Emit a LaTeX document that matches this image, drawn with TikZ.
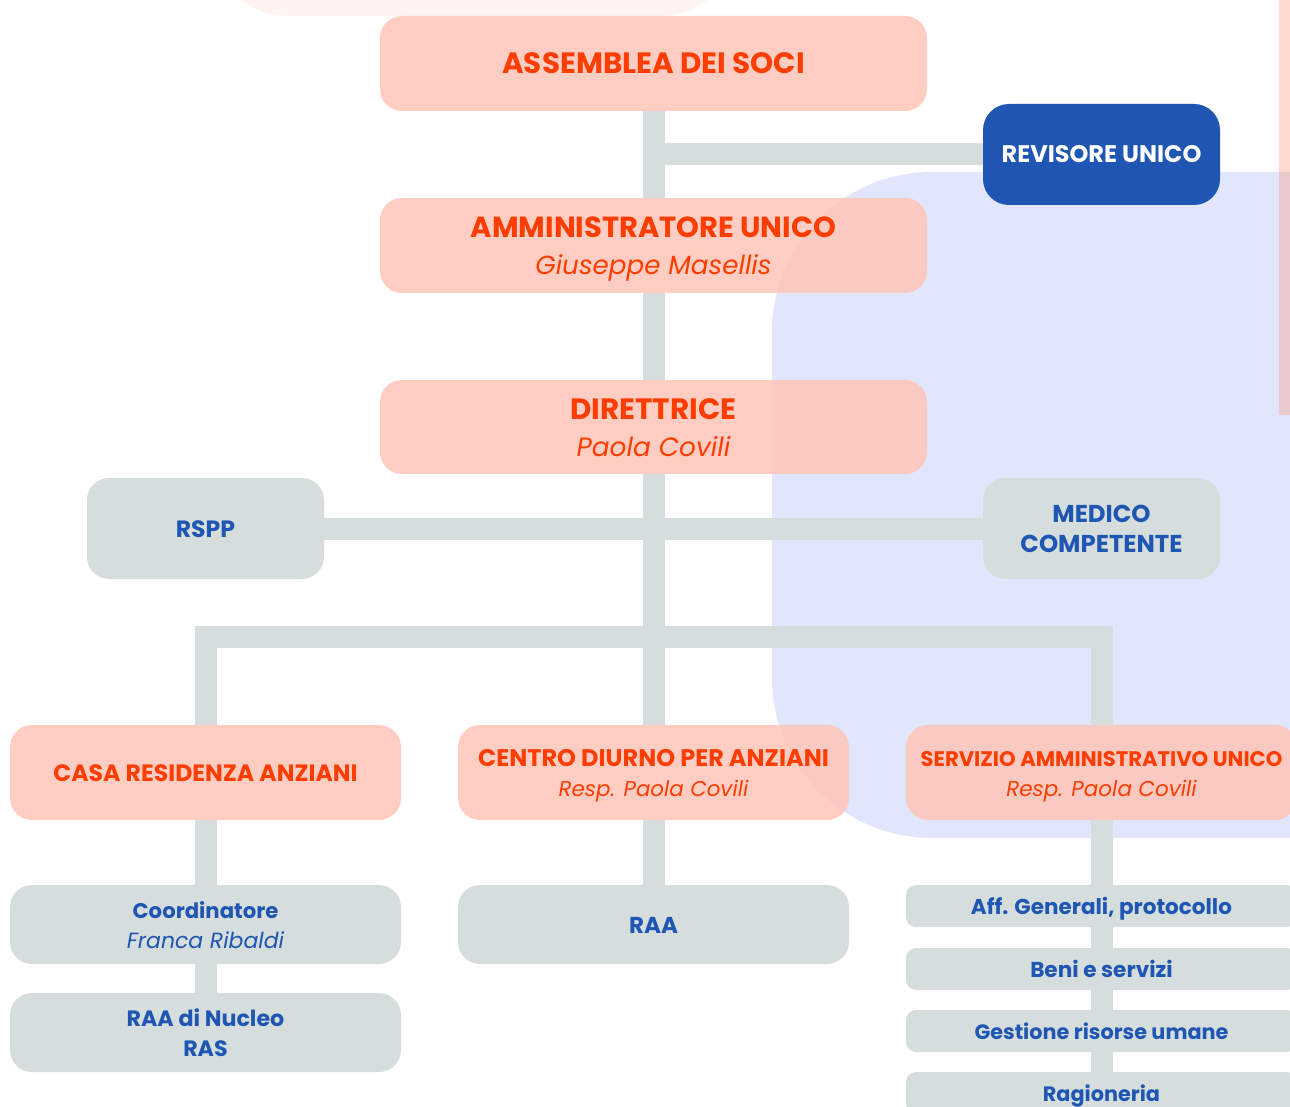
\documentclass[tikz,border=0pt]{standalone}
\usepackage{fontspec}
\setmainfont{Poppins}
\definecolor{pinkc}{HTML}{FFC4B7}
\definecolor{orangec}{HTML}{FF3D00}
\definecolor{grayc}{HTML}{D5DEDD}
\definecolor{bluec}{HTML}{1F55B3}
\definecolor{bgblue}{HTML}{E1E6FD}
\definecolor{bgpink}{HTML}{FFF4F2}
\definecolor{stripc}{HTML}{FF7B57}
\newcommand\BL[2]{{\fontsize{#1}{#1}\selectfont\bfseries #2}}
\newcommand\IL[2]{{\fontsize{#1}{#1}\selectfont\itshape #2}}
\newcommand\Tb{\rule{0pt}{15pt}}
\newcommand\Bb{\rule[-4.5pt]{0pt}{4.5pt}}
\newcommand\Tm{\rule{0pt}{12pt}}
\newcommand\Bm{\rule[-3.5pt]{0pt}{3.5pt}}
\pgfdeclarelayer{bgl}
\pgfdeclarelayer{conl}
\pgfsetlayers{bgl,conl,main}
\begin{document}
\begin{tikzpicture}[x=0.5pt,y=-0.5pt,
  sz/.style 2 args={minimum width=#1*0.5pt, minimum height=#2*0.5pt},
  box/.style={rectangle, rounded corners=11pt, inner sep=0pt, align=center, anchor=center},
  pinkbox/.style={box, fill=pinkc, fill opacity=.85, text opacity=1, text=orangec},
  graybox/.style={box, fill=grayc, text=bluec},
  bluebox/.style={box, fill=bluec, text=white, rounded corners=13pt},
  smallbox/.style={graybox, rounded corners=5pt},
  big/.style={font=\fontsize{14}{18.5}\selectfont},
  mid/.style={font=\fontsize{11}{15}\selectfont},
  conn/.style={draw=grayc, line width=11pt}]
\useasboundingbox (0,0) rectangle (1290,1107);
\begin{pgfonlayer}{bgl}
\begin{scope}
\clip (0,0) rectangle (1290,1107);
\fill[bgpink, rounded corners=37pt] (213,-120) rectangle (735,16);
\fill[bgblue, rounded corners=80pt] (772,172) rectangle (1500,838);
\fill[stripc, opacity=.28] (1279,-10) rectangle (1300,415);
\end{scope}
\end{pgfonlayer}
\begin{scope}
\clip (0,0) rectangle (1290,1107);
\node[pinkbox, sz={547}{95}, big] (ass) at (653.5,63.5) {\Tb\BL{14.7}{ASSEMBLEA DEI SOCI}\Bb};
\node[pinkbox, sz={547}{95}, big] (amm) at (653.5,245.5) {\Tb\BL{14.5}{AMMINISTRATORE UNICO}\\\IL{13.1}{Giuseppe Masellis}\Bb};
\node[pinkbox, sz={547}{94}, big] (dir) at (653.5,427) {\Tb\BL{14.7}{DIRETTRICE}\\\IL{13.2}{Paola Covili}\Bb};
\node[bluebox, sz={237}{101}, mid] (rev) at (1101.5,154.5) {\Tm\BL{12}{REVISORE UNICO}\Bm};
\node[graybox, sz={237}{101}, mid] (rspp) at (205.5,528.5) {\Tm\BL{11.8}{RSPP}\Bm};
\node[graybox, sz={237}{101}, mid] (med) at (1101.5,528.5) {\Tm\BL{12.2}{MEDICO}\\\BL{12.2}{COMPETENTE}\Bm};
\node[pinkbox, sz={391}{95}, mid] (casa) at (205.5,772.5) {\Tm\BL{11.8}{CASA RESIDENZA ANZIANI}\Bm};
\node[pinkbox, sz={391}{95}, mid] (centro) at (653.5,772.5) {\Tm\BL{12}{CENTRO DIURNO PER ANZIANI}\\\IL{10.7}{Resp. Paola Covili}\Bm};
\node[pinkbox, sz={391}{95}, mid] (serv) at (1101.5,772.5) {\Tm\BL{10.55}{SERVIZIO AMMINISTRATIVO UNICO}\\\IL{10.75}{Resp. Paola Covili}\Bm};
\node[graybox, sz={391}{79}, mid] (coord) at (205.5,924.5) {\Tm\BL{10.6}{Coordinatore}\\\IL{11}{Franca Ribaldi}\Bm};
\node[graybox, sz={391}{79}, mid] (raan) at (205.5,1032.5) {\Tm\BL{11.1}{RAA di Nucleo}\\\BL{11.1}{RAS}\Bm};
\node[graybox, sz={391}{79}, mid] (raa) at (653.5,924.5) {\Tm\BL{11.5}{RAA}\Bm};
\node[smallbox, sz={391}{42}, mid] (aff) at (1101.5,906) {\Tm\BL{10.75}{Aff. Generali, protocollo}\Bm};
\node[smallbox, sz={391}{42}, mid] (beni) at (1101.5,969) {\Tm\BL{10.8}{Beni e servizi}\Bm};
\node[smallbox, sz={391}{42}, mid] (gest) at (1101.5,1031) {\Tm\BL{10.4}{Gestione risorse umane}\Bm};
\node[smallbox, sz={391}{42}, mid] (rag) at (1101.5,1093) {\Tm\BL{10.4}{Ragioneria}\Bm};
\end{scope}
\coordinate (barc) at (653.5,637);
\begin{pgfonlayer}{conl}
\draw[conn] (ass.south) -- (amm.north);
\draw[conn] (amm.south) -- (dir.north);
\draw[conn] (dir.south) -- (centro.north);
\draw[conn] (rev.west) -- (rev.west -| amm.north);
\draw[conn] (rspp.east) -- (med.west);
\draw[conn, line join=miter] (casa.north) -- (casa.north |- barc) -- (serv.north |- barc) -- (serv.north);
\draw[conn] (casa.south) -- (coord.north);
\draw[conn] (coord.south) -- (raan.north);
\draw[conn] (centro.south) -- (raa.north);
\draw[conn] (serv.south) -- (aff.north);
\draw[conn] (aff.south) -- (beni.north);
\draw[conn] (beni.south) -- (gest.north);
\draw[conn] (gest.south) -- (rag.north);
\end{pgfonlayer}
\end{tikzpicture}
\end{document}
